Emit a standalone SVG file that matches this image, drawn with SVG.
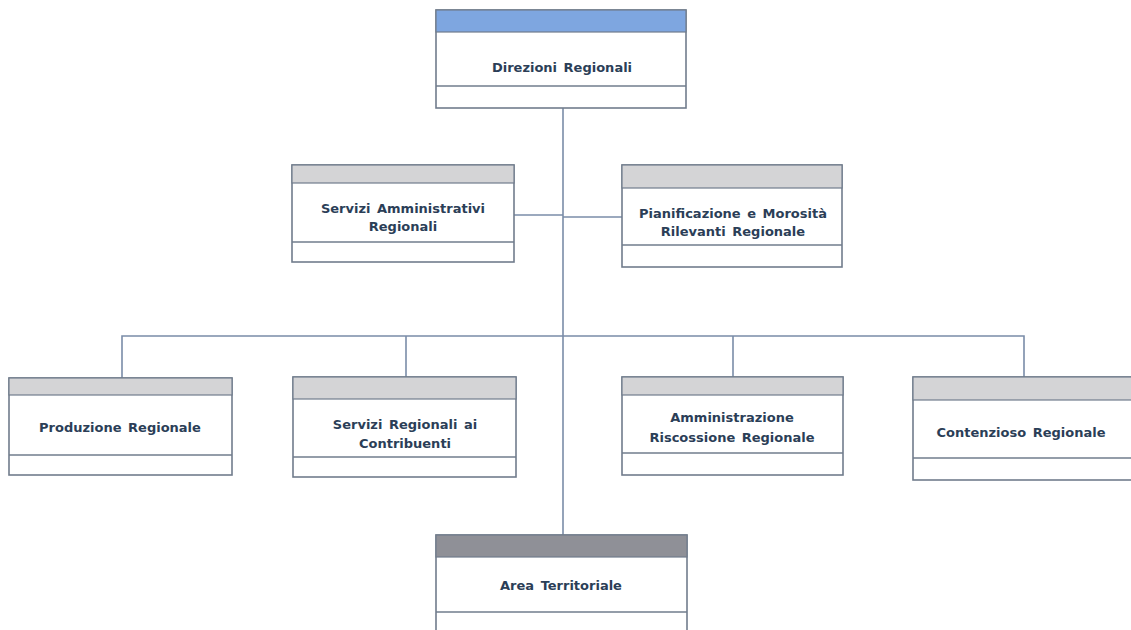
<svg xmlns="http://www.w3.org/2000/svg" width="1131" height="630" viewBox="0 0 1131 630">
<style>
.box{fill:#ffffff;stroke:#717c8c;stroke-width:1.6}
.hdr{fill:#d4d4d6;stroke:#717c8c;stroke-width:1.2}
.div{stroke:#717c8c;stroke-width:1.6}
.conn{fill:none;stroke:#7a8ca8;stroke-width:1.6}
text{font-family:"DejaVu Sans","Liberation Sans",Arial,sans-serif;font-weight:bold;font-size:13px;fill:#2b3e57;text-anchor:middle;word-spacing:2px}
</style>
<rect width="1131" height="630" fill="#ffffff"/>
<g id="connectors">
<path class="conn" d="M563 108 V535"/>
<path class="conn" d="M514 215 H563"/>
<path class="conn" d="M563 217 H622"/>
<path class="conn" d="M122 378 V336 H1024 V377"/>
<path class="conn" d="M406 336 V377"/>
<path class="conn" d="M733 336 V377"/>
</g>
<g id="direzioni">
<rect class="box" x="436" y="10" width="250" height="98"/>
<rect x="436" y="10" width="250" height="22" fill="#7ea6e0" stroke="#717c8c" stroke-width="1.2"/>
<line class="div" x1="436" y1="86" x2="686" y2="86"/>
<text x="562" y="72">Direzioni Regionali</text>
</g>
<g id="servizi-amm">
<rect class="box" x="292" y="165" width="222" height="97"/>
<rect class="hdr" x="292" y="165" width="222" height="18"/>
<line class="div" x1="292" y1="242" x2="514" y2="242"/>
<text x="403" y="213">Servizi Amministrativi</text>
<text x="403" y="231">Regionali</text>
</g>
<g id="pianificazione">
<rect class="box" x="622" y="165" width="220" height="102"/>
<rect class="hdr" x="622" y="165" width="220" height="23"/>
<line class="div" x1="622" y1="245" x2="842" y2="245"/>
<text x="733" y="218">Pianificazione e Morosità</text>
<text x="733" y="236">Rilevanti Regionale</text>
</g>
<g id="produzione">
<rect class="box" x="9" y="378" width="223" height="97"/>
<rect class="hdr" x="9" y="378" width="223" height="17"/>
<line class="div" x1="9" y1="455" x2="232" y2="455"/>
<text x="120" y="432">Produzione Regionale</text>
</g>
<g id="servizi-contribuenti">
<rect class="box" x="293" y="377" width="223" height="100"/>
<rect class="hdr" x="293" y="377" width="223" height="22"/>
<line class="div" x1="293" y1="457" x2="516" y2="457"/>
<text x="405" y="429">Servizi Regionali ai</text>
<text x="405" y="448">Contribuenti</text>
</g>
<g id="amministrazione">
<rect class="box" x="622" y="377" width="221" height="98"/>
<rect class="hdr" x="622" y="377" width="221" height="18"/>
<line class="div" x1="622" y1="453" x2="843" y2="453"/>
<text x="732" y="422">Amministrazione</text>
<text x="732" y="442">Riscossione  Regionale</text>
</g>
<g id="contenzioso">
<rect class="box" x="913" y="377" width="222" height="103"/>
<rect class="hdr" x="913" y="377" width="222" height="23"/>
<line class="div" x1="913" y1="458" x2="1131" y2="458"/>
<text x="1021" y="437">Contenzioso Regionale</text>
</g>
<g id="area-territoriale">
<rect class="box" x="436" y="535" width="251" height="100"/>
<rect x="436" y="535" width="251" height="22" fill="#8f9097" stroke="#717c8c" stroke-width="1.2"/>
<line class="div" x1="436" y1="612" x2="687" y2="612"/>
<text x="561" y="590">Area Territoriale</text>
</g>
</svg>
